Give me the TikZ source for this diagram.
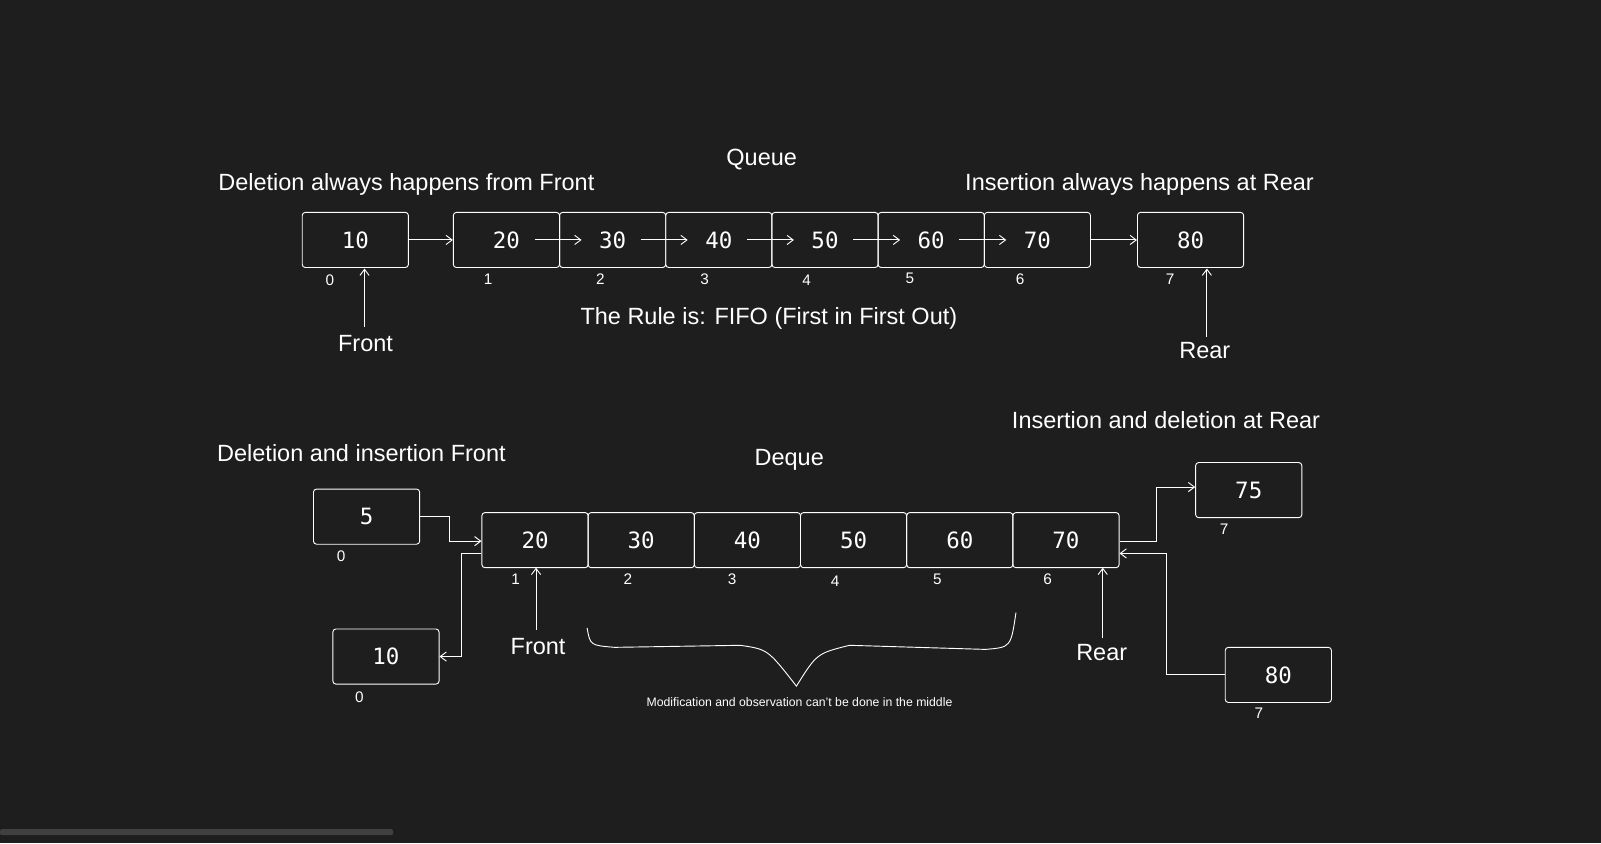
\documentclass[tikz,border=0pt]{standalone}
\usepackage{fontspec}
\setmainfont{Liberation Sans}
\newfontfamily\monof{DejaVu Sans Mono}
\usetikzlibrary{arrows.meta}
\definecolor{bg}{HTML}{1E1E1E}
\begin{document}
\begin{tikzpicture}[x=1pt,y=-1pt,
  every node/.style={text=white},
  box/.style={draw=white,line width=0.9pt,rounded corners=3pt,minimum width=104pt,minimum height=54pt,inner sep=0pt,font=\monof\fontsize{22}{24}\selectfont},
  idx/.style={font=\fontsize{15}{16}\selectfont},
  lbl/.style={font=\fontsize{23}{26}\selectfont},
  con/.style={draw=white,line width=0.9pt,-{Straight Barb[length=6pt,width=9pt]}}]
\fill[bg] (0,0) rectangle (1568,826);
\useasboundingbox (0,0) rectangle (1568,826);
\fill[gray!35!bg,rounded corners=2pt] (0,812) rectangle (385,818);
% Queue
\node[lbl] (tq) at (746,156) {Queue};
\node[lbl] (tdel) at (398,181) {Deletion always happens from Front};
\node[lbl] (tins) at (1116,181) {Insertion always happens at Rear};
\node[lbl] (tfifo) at (753,312) {The Rule is: FIFO (First in First Out)};
\node[box] (q10) at (348,235) {10};
\node[box] (q20) at (496,235) {20};
\node[box] (q30) at (600,235) {30};
\node[box] (q40) at (704,235) {40};
\node[box] (q50) at (808,235) {50};
\node[box] (q60) at (912,235) {60};
\node[box] (q70) at (1016,235) {70};
\node[box] (q80) at (1166,235) {80};
\draw[con] (q10.east) -- (q20.west);
\foreach \n in {q30,q40,q50,q60,q70}{\draw[con] ([xshift=-24pt]\n.west) -- ([xshift=22pt]\n.west);}
\draw[con] (q70.east) -- (q80.west);
\node[idx] at (323,274) {0};
\node[idx] at (478,273) {1};
\node[idx] at (588,273) {2};
\node[idx] at (690,273) {3};
\node[idx] at (790,274) {4};
\node[idx] at (891,273) {5};
\node[idx] at (999,273) {6};
\node[idx] at (1146,273) {7};
\node[lbl] (qf) at (358,336) {Front};
\node[lbl] (qr) at (1180,343) {Rear};
\coordinate (qfa) at (357,320);
\coordinate (qra) at (1182,330);
\draw[con] (qfa) -- (357,263);
\draw[con] (qra) -- (1182,263);
% Deque
\node[lbl] (tdi) at (354,444) {Deletion and insertion Front};
\node[lbl] (tdq) at (773,450) {Deque};
\node[lbl] (tir) at (1142,411) {Insertion and deletion at Rear};
\node[box] (d5) at (359,506) {5};
\node[box] (d10) at (378,643) {10};
\node[box] (d20) at (524,529) {20};
\node[box] (d30) at (628,529) {30};
\node[box] (d40) at (732,529) {40};
\node[box] (d50) at (836,529) {50};
\node[box] (d60) at (940,529) {60};
\node[box] (d70) at (1044,529) {70};
\node[box] (d75) at (1223,480) {75};
\node[box] (d80) at (1252,661) {80};
\node[idx] at (334,545) {0};
\node[idx] at (352,683) {0};
\node[idx] at (505,567) {1};
\node[idx] at (615,567) {2};
\node[idx] at (717,567) {3};
\node[idx] at (818,569) {4};
\node[idx] at (918,567) {5};
\node[idx] at (1026,567) {6};
\node[idx] at (1199,518) {7};
\node[idx] at (1233,699) {7};
\draw[con] (d5.east) -- (440,506) -- (440,530) -- (d20.west |- 0,530);
\draw[con] (d20.west |- 0,542) -- (452,542) -- (452,643) -- (d10.east);
\draw[con] (d70.east |- 0,530) -- (1133,530) -- (1133,477) -- (d75.west |- 0,477);
\draw[con] (d80.west) -- (1142,661) -- (1142,542) -- (d70.east |- 0,542);
\node[lbl] (df) at (527,633) {Front};
\node[lbl] (dr) at (1079,639) {Rear};
\coordinate (dfa) at (525,617);
\coordinate (dra) at (1080,625);
\draw[con] (dfa) -- (525,556);
\draw[con] (dra) -- (1080,556);
\draw[white,line width=0.9pt] (575,615) .. controls (578,632) .. (602,634) -- (725,632) .. controls (752,636) .. (780,672) .. controls (800,640) .. (832,632) -- (965,636) .. controls (990,634) .. (995,600);
\node[font=\fontsize{12}{13}\selectfont] (tmod) at (783,688) {Modification and observation can't be done in the middle};
\end{tikzpicture}
\end{document}
